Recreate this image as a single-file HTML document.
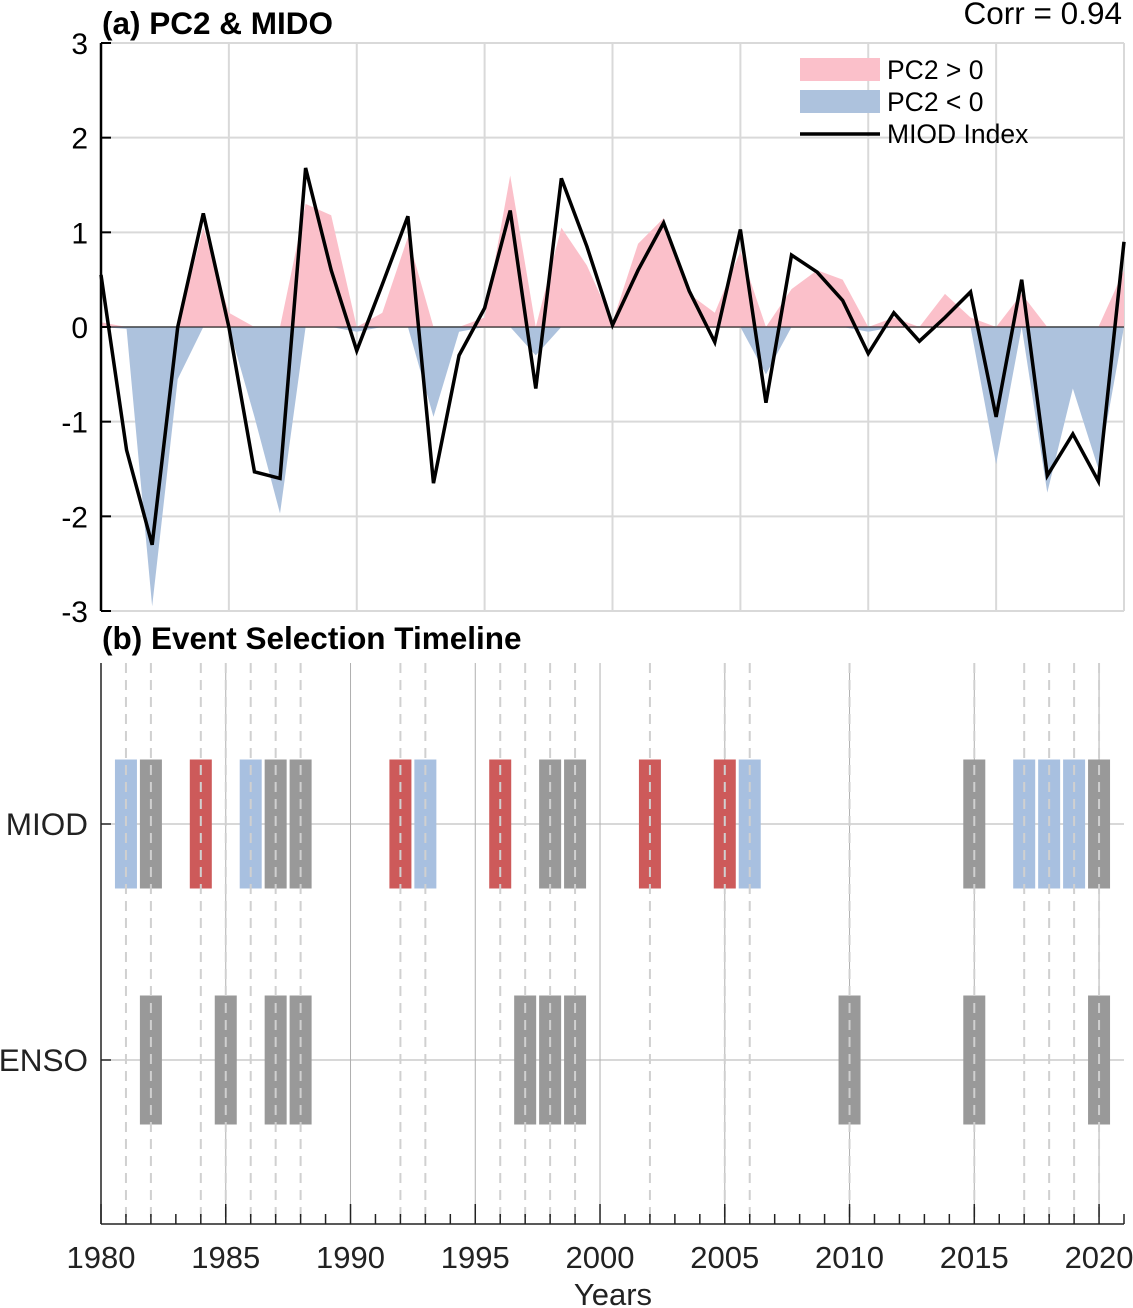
<!DOCTYPE html>
<html><head><meta charset="utf-8"><style>
html,body{margin:0;padding:0;background:#fff;}
svg{display:block;font-family:"Liberation Sans",Arial,sans-serif;}
</style></head><body>
<svg id="chart" width="1133" height="1308" viewBox="0 0 1133 1308"></svg>
<script>
const years = [1980,1981,1982,1983,1984,1985,1986,1987,1988,1989,1990,1991,1992,1993,1994,1995,1996,1997,1998,1999,2000,2001,2002,2003,2004,2005,2006,2007,2008,2009,2010,2011,2012,2013,2014,2015,2016,2017,2018,2019,2020];
const miod = [0.55,-1.3,-2.3,0,1.2,0,-1.53,-1.6,1.68,0.6,-0.25,0.45,1.17,-1.65,-0.3,0.2,1.23,-0.65,1.57,0.85,0.02,0.6,1.1,0.38,-0.16,1.03,-0.8,0.76,0.58,0.28,-0.28,0.15,-0.15,0.1,0.37,-0.95,0.5,-1.57,-1.13,-1.63,0.9];
const pc2 = [0.05,-0.02,-2.95,-0.55,1.05,0.15,-0.95,-1.97,1.3,1.18,-0.05,0.15,0.95,-0.95,-0.05,0.1,1.6,-0.3,1.05,0.65,0.05,0.88,1.15,0.35,0.15,0.8,-0.5,0.4,0.6,0.5,-0.05,0.1,0.0,0.35,0.1,-1.45,0.35,-1.75,-0.65,-1.5,0.6];
const yTicksA = [3,2,1,0,-1,-2,-3];
const xTicksB = [1980,1985,1990,1995,2000,2005,2010,2015,2020];
const miodEventYears = [1981,1982,1984,1986,1987,1988,1992,1993,1996,1998,1999,2002,2005,2006,2015,2017,2018,2019,2020];
const miodEventTypes = ['neg','neu','pos','neg','neu','neu','pos','neg','pos','neu','neu','pos','pos','neg','neu','neg','neg','neg','neu'];
const ensoEventYears = [1982,1985,1987,1988,1997,1998,1999,2010,2015,2020];

const NS='http://www.w3.org/2000/svg';
const svg=document.getElementById('chart');
function mk(tag,attrs,parent){const e=document.createElementNS(NS,tag);for(const k in attrs)e.setAttribute(k,attrs[k]);(parent||svg).appendChild(e);return e;}

const ax={l:101,r:1124,t:43,b:611};
const xA=y=>ax.l+(y-1980)*(ax.r-ax.l)/40;
const yA=v=>ax.t+(3-v)*(ax.b-ax.t)/6;
const gA=mk('g',{});


for(let yr=1980;yr<=2020;yr+=5){const l=mk('line',{x1:xA(yr),x2:xA(yr),y1:ax.t,y2:ax.b,stroke:'#d9d9d9','stroke-width':2},gA);}
yTicksA.forEach(v=>{const l=mk('line',{x1:ax.l,x2:ax.r,y1:yA(v),y2:yA(v),stroke:'#d9d9d9','stroke-width':2},gA);});
function areaPath(sign){let d='M'+xA(years[0])+','+yA(0);years.forEach((y,i)=>{const v=sign>0?Math.max(pc2[i],0):Math.min(pc2[i],0);d+=' L'+xA(y)+','+yA(v);});d+=' L'+xA(years[years.length-1])+','+yA(0)+' Z';return d;}
const pa=mk('path',{d:areaPath(1),fill:'#fbc0ca'},gA);

const na=mk('path',{d:areaPath(-1),fill:'#adc2dd'},gA);

const zl=mk('line',{x1:ax.l,x2:ax.r,y1:yA(0),y2:yA(0),stroke:'#000','stroke-width':1},gA);

const ml=mk('polyline',{points:years.map((y,i)=>xA(y)+','+yA(miod[i])).join(' '),fill:'none',stroke:'#000','stroke-width':3.5,'stroke-linejoin':'miter'},gA);

const yax=mk('line',{x1:ax.l,x2:ax.l,y1:ax.t,y2:ax.b,stroke:'#000','stroke-width':2.5},gA);

yTicksA.forEach(v=>{mk('line',{x1:ax.l,x2:ax.l+10,y1:yA(v),y2:yA(v),stroke:'#000','stroke-width':2},gA);
const t=mk('text',{x:88,y:yA(v)+11,'font-size':30,'text-anchor':'end',fill:'#000'},gA);t.textContent=v;});
let t=mk('text',{x:102,y:34,'font-size':31.5,'font-weight':'bold'},gA);t.textContent='(a) PC2 & MIDO';
t=mk('text',{x:1122,y:24,'font-size':31.5,'text-anchor':'end'},gA);t.textContent='Corr = 0.94';
const lg=mk('g',{},gA);
mk('rect',{x:800,y:58,width:80,height:23,fill:'#fbc0ca'},lg);
mk('rect',{x:800,y:90,width:80,height:23,fill:'#adc2dd'},lg);
mk('line',{x1:800,x2:880,y1:134,y2:134,stroke:'#000','stroke-width':3.5},lg);
[['PC2 > 0',79],['PC2 < 0',111],['MIOD Index',143]].forEach(([s,y])=>{const e=mk('text',{x:887,y:y,'font-size':26.5},lg);e.textContent=s;});

const bx={l:101,r:1124,t:663,b:1224};
const xB=y=>bx.l+(y-1980)*(bx.r-bx.l)/41;
const gB=mk('g',{});
t=mk('text',{x:102,y:649,'font-size':31.5,'font-weight':'bold'},gB);t.textContent='(b) Event Selection Timeline';
xTicksB.forEach(yr=>{const l=mk('line',{x1:xB(yr),x2:xB(yr),y1:bx.t,y2:bx.b,stroke:'#b0b0b0','stroke-width':1},gB);});
const rowY={MIOD:824,ENSO:1060};
Object.keys(rowY).forEach(k=>{const l=mk('line',{x1:bx.l,x2:bx.r,y1:rowY[k],y2:rowY[k],stroke:'#b0b0b0','stroke-width':1},gB);
const e=mk('text',{x:88,y:rowY[k]+11,'font-size':31.5,'text-anchor':'end',fill:'#222'},gB);e.textContent=k;
mk('line',{x1:bx.l,x2:bx.l+10,y1:rowY[k],y2:rowY[k],stroke:'#222','stroke-width':1.5},gB);});
const colors={pos:'#cd5a5a',neg:'#a8c0e0',neu:'#999999'};
const bw=22,bh=129;
miodEventYears.forEach((yr,i)=>{const r=mk('rect',{x:xB(yr)-bw/2,y:rowY.MIOD-bh/2,width:bw,height:bh,fill:colors[miodEventTypes[i]]},gB);});
ensoEventYears.forEach(yr=>{const r=mk('rect',{x:xB(yr)-bw/2,y:rowY.ENSO-bh/2,width:bw,height:bh,fill:colors.neu},gB);});
const allYears=[...new Set(miodEventYears.concat(ensoEventYears))];
allYears.forEach(yr=>{const l=mk('line',{x1:xB(yr),x2:xB(yr),y1:bx.t,y2:bx.b,stroke:'#d0d0d0','stroke-width':2,'stroke-dasharray':'10,7'},gB);});
const lax=mk('line',{x1:bx.l,x2:bx.l,y1:bx.t,y2:bx.b,stroke:'#222','stroke-width':1.5},gB);
const bax=mk('line',{x1:bx.l,x2:bx.r,y1:bx.b,y2:bx.b,stroke:'#222','stroke-width':1.5},gB);
for(let yr=1980;yr<=2021;yr++){const major=yr%5===0;mk('line',{x1:xB(yr),x2:xB(yr),y1:bx.b,y2:bx.b-(major?20:10),stroke:'#222','stroke-width':1.5},gB);}
xTicksB.forEach(yr=>{const e=mk('text',{x:xB(yr),y:1268,'font-size':31,'text-anchor':'middle',fill:'#222'},gB);e.textContent=yr;});
t=mk('text',{x:613,y:1305,'font-size':31,'text-anchor':'middle',fill:'#222'},gB);t.textContent='Years';
</script>
</body></html>
